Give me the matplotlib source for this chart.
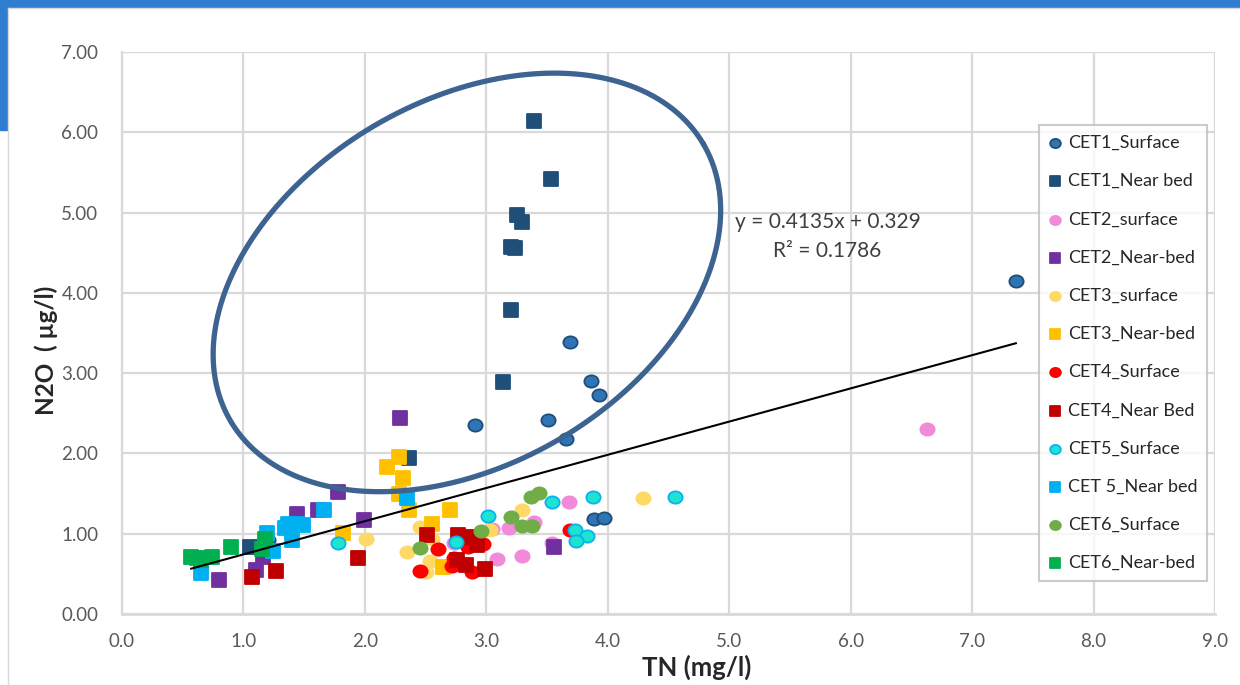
import numpy as np
import matplotlib
matplotlib.use("Agg")
import matplotlib.pyplot as plt
from matplotlib.path import Path
from matplotlib.transforms import Affine2D
from matplotlib.patches import Rectangle

plt.rcParams['font.family'] = ['Lato', 'DejaVu Sans']

# ---------------- data ----------------
cet1_surf_x = [7.36, 3.69, 3.86, 3.93, 3.51, 3.66, 2.91, 3.89, 3.97, 1.20]
cet1_surf_y = [4.15, 3.39, 2.90, 2.73, 2.42, 2.18, 2.35, 1.18, 1.20, 0.92]

cet1_bed_x = [3.39, 3.53, 3.25, 3.29, 3.20, 3.24, 3.20, 3.14, 2.36, 1.05]
cet1_bed_y = [6.14, 5.42, 4.97, 4.88, 4.57, 4.56, 3.79, 2.89, 1.94, 0.83]

cet2_surf_x = [6.63, 3.68, 3.05, 3.19, 3.39, 3.54, 3.09, 3.29, 2.73]
cet2_surf_y = [2.30, 1.39, 1.06, 1.07, 1.15, 0.88, 0.68, 0.72, 0.88]

cet2_bed_x = [2.29, 1.78, 1.99, 1.44, 1.61, 1.10, 0.80, 1.16, 3.56]
cet2_bed_y = [2.44, 1.52, 1.17, 1.24, 1.30, 0.55, 0.42, 0.71, 0.83]

cet3_surf_x = [2.01, 2.45, 2.55, 2.35, 2.54, 2.50, 3.03, 3.29, 4.29]
cet3_surf_y = [0.93, 1.08, 0.94, 0.77, 0.66, 0.52, 1.05, 1.30, 1.45]

cet3_bed_x = [2.28, 2.18, 2.31, 2.28, 2.36, 2.70, 2.55, 1.82, 2.64]
cet3_bed_y = [1.96, 1.83, 1.69, 1.49, 1.30, 1.30, 1.12, 1.01, 0.59]

cet4_surf_x = [2.60, 2.45, 2.73, 2.72, 2.85, 2.97, 2.88, 3.69]
cet4_surf_y = [0.81, 0.54, 0.70, 0.60, 0.84, 0.87, 0.52, 1.05]

cet4_bed_x = [1.94, 1.27, 1.07, 2.51, 2.77, 2.88, 2.92, 2.76, 2.83, 2.99]
cet4_bed_y = [0.70, 0.54, 0.46, 0.98, 0.99, 0.96, 0.86, 0.67, 0.61, 0.56]

cet5_surf_x = [4.55, 3.88, 3.54, 3.01, 2.75, 1.78, 3.73, 3.83, 3.74]
cet5_surf_y = [1.46, 1.46, 1.40, 1.22, 0.90, 0.88, 1.05, 0.97, 0.91]

cet5_bed_x = [1.66, 1.44, 1.34, 1.49, 1.19, 1.40, 1.24, 0.65, 2.35, 1.37]
cet5_bed_y = [1.29, 1.12, 1.07, 1.11, 1.01, 0.92, 0.78, 0.51, 1.44, 1.12]

cet6_surf_x = [2.45, 2.96, 3.20, 3.29, 3.38, 3.37, 3.43]
cet6_surf_y = [0.82, 1.03, 1.21, 1.09, 1.09, 1.46, 1.51]

cet6_bed_x = [0.57, 0.65, 0.74, 0.62, 0.90, 1.18, 1.15]
cet6_bed_y = [0.71, 0.67, 0.71, 0.70, 0.84, 0.93, 0.81]

series_labels = ["CET1_Surface", "CET1_Near bed", "CET2_surface", "CET2_Near-bed",
                 "CET3_surface", "CET3_Near-bed", "CET4_Surface", "CET4_Near Bed",
                 "CET5_Surface", "CET 5_Near bed", "CET6_Surface", "CET6_Near-bed"]

trend_slope = 0.4135
trend_intercept = 0.329
trend_r2 = 0.1786

x_ticks = [0, 1, 2, 3, 4, 5, 6, 7, 8, 9]
y_ticks = [0, 1, 2, 3, 4, 5, 6, 7]

# ---------------- figure ----------------
fig = plt.figure(figsize=(12.4, 6.85), dpi=100)
W, H = 1240, 685

# slide frame decorations
fig.patches.append(Rectangle((0, 1 - 7 / H), 1, 7 / H, transform=fig.transFigure,
                             color='#2E7DD1', zorder=0))
fig.patches.append(Rectangle((0, 1 - 130 / H), 7 / W, 130 / H, transform=fig.transFigure,
                             color='#2E7DD1', zorder=0))
fig.lines.append(plt.Line2D([8 / W, 8 / W], [0, 1 - 8 / H], transform=fig.transFigure,
                            color='#D9D9D9', lw=1))
fig.lines.append(plt.Line2D([8 / W, 1], [1 - 8 / H, 1 - 8 / H], transform=fig.transFigure,
                            color='#D9D9D9', lw=1))

left, right, top, bottom = 122, 1215, 52, 614
ax = fig.add_axes([left / W, 1 - bottom / H, (right - left) / W, (bottom - top) / H])
ax.set_xlim(0, 9)
ax.set_ylim(0, 7)
ax.set_xticks(x_ticks)
ax.set_yticks(y_ticks)
ax.set_xticklabels([f"{v:.1f}" for v in x_ticks])
ax.set_yticklabels([f"{v:.2f}" for v in y_ticks])
ax.tick_params(length=0, labelsize=13.5, labelcolor='#595959')
ax.tick_params(axis='x', pad=14)
ax.tick_params(axis='y', pad=17)
ax.grid(True, color='#D9D9D9', lw=1.6)
ax.set_axisbelow(True)
for s in ax.spines.values():
    s.set_visible(False)
ax.spines['left'].set_visible(True)
ax.spines['left'].set_color('#D9D9D9')
ax.spines['left'].set_linewidth(1.6)
ax.spines['bottom'].set_visible(True)
ax.spines['bottom'].set_color('#D9D9D9')
ax.spines['bottom'].set_linewidth(2.0)

ell_marker = Path.unit_circle().transformed(Affine2D().scale(1.0, 0.86))

styles = [
    (cet1_surf_x, cet1_surf_y, ell_marker, '#2E75B6', '#1F4E79'),
    (cet1_bed_x, cet1_bed_y, 's', '#1F4E79', '#1F4E79'),
    (cet2_surf_x, cet2_surf_y, ell_marker, '#F18AD8', '#F18AD8'),
    (cet2_bed_x, cet2_bed_y, 's', '#7030A0', '#7030A0'),
    (cet3_surf_x, cet3_surf_y, ell_marker, '#FFD966', '#FFD966'),
    (cet3_bed_x, cet3_bed_y, 's', '#FFC000', '#FFC000'),
    (cet4_surf_x, cet4_surf_y, ell_marker, '#FF0000', '#FF0000'),
    (cet4_bed_x, cet4_bed_y, 's', '#C00000', '#C00000'),
    (cet5_surf_x, cet5_surf_y, ell_marker, '#1DE3D0', '#0DB0F0'),
    (cet5_bed_x, cet5_bed_y, 's', '#00B0F0', '#00B0F0'),
    (cet6_surf_x, cet6_surf_y, ell_marker, '#70AD47', '#70AD47'),
    (cet6_bed_x, cet6_bed_y, 's', '#00B050', '#00B050'),
]

for i, ((xs, ys, mk, fc, ec), lab) in enumerate(zip(styles, series_labels)):
    is_square = isinstance(mk, str) and mk == 's'
    size = 88 if is_square else 105
    ax.scatter(xs, ys, marker=mk, s=size, facecolor=fc, edgecolor=ec,
               linewidths=1.3, label=lab, zorder=3 + i * 0.01)

# trendline over full data range
all_x = np.concatenate([np.asarray(s[0]) for s in styles])
tx = np.array([all_x.min(), all_x.max()])
ax.plot(tx, trend_slope * tx + trend_intercept, color='black', lw=1.5, zorder=5)

ax.text(5.81, 4.88, f"y = {trend_slope}x + {trend_intercept}", ha='center', va='center',
        fontsize=15, color='#404040', zorder=6)
ax.text(5.81, 4.52, f"R² = {trend_r2}", ha='center', va='center',
        fontsize=15, color='#404040', zorder=6)

# highlight ellipse (defined in pixel-like units, converted to data units)
sx = (right - left) / 9.0
sy = (bottom - top) / 7.0
ecx, ecy = 2.84, 4.13
a_px, b_px, theta = 274, 182, np.deg2rad(30.3)
t = np.linspace(0, 2 * np.pi, 400)
px = a_px * np.cos(t) * np.cos(theta) - b_px * np.sin(t) * np.sin(theta)
py = a_px * np.cos(t) * np.sin(theta) + b_px * np.sin(t) * np.cos(theta)
ax.plot(ecx + px / sx, ecy + py / sy, color='#3D6391', lw=3.8, zorder=6,
        solid_capstyle='round')

leg = ax.legend(loc='upper left', bbox_to_anchor=((1039 - left) / (right - left),
                                                 (bottom - 125) / (bottom - top)),
                borderaxespad=0, frameon=True, fancybox=False, fontsize=13,
                labelspacing=1.23, handletextpad=0.35, handlelength=0.7,
                borderpad=0.55, markerscale=0.75, labelcolor='#262626')
leg.get_frame().set_edgecolor('#BFBFBF')
leg.get_frame().set_linewidth(1.5)
leg.set_zorder(10)

fig.text(46 / W, 1 - 350 / H, "N2O  ( µg/l)", rotation=90, ha='center', va='center',
         fontsize=17.5, fontweight='bold', color='#262626')
fig.text(697 / W, 1 - 667 / H, "TN (mg/l)", ha='center', va='center',
         fontsize=18.5, fontweight='bold', color='#262626')

fig.savefig("out.png", dpi=100)
